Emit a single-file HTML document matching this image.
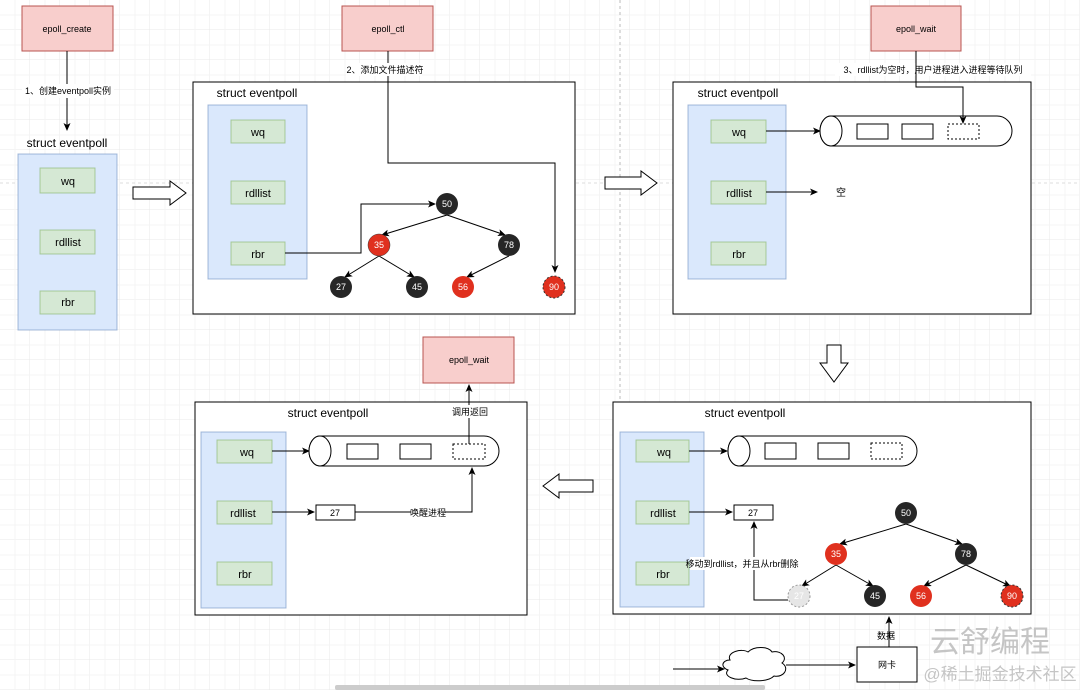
<!DOCTYPE html>
<html><head><meta charset="utf-8"><style>
html,body{margin:0;padding:0;background:#fff;}
svg{display:block;font-family:"Liberation Sans","Noto Sans CJK SC",sans-serif;}
</style></head><body>
<svg width="1080" height="690" viewBox="0 0 1080 690" xmlns="http://www.w3.org/2000/svg">
<defs>
<pattern id="g" width="30" height="30" patternUnits="userSpaceOnUse">
<path d="M30 0V30M0 30H30" fill="none" stroke="#e8e8e8" stroke-width="1"/>
<path d="M15 0V30M0 15H30" fill="none" stroke="#f4f4f4" stroke-width="1"/>
</pattern>
<marker id="a" markerWidth="8" markerHeight="8" refX="7" refY="4" orient="auto" markerUnits="userSpaceOnUse"><path d="M0,0.5 L8,4 L0,7.5 L2,4 Z" fill="#000"/></marker>
</defs>
<rect width="1080" height="690" fill="#fff"/>
<rect width="1080" height="690" fill="url(#g)"/>
<line x1="620" y1="0" x2="620" y2="400" stroke="#bbb" stroke-dasharray="3 3"/>
<line x1="0" y1="183" x2="1080" y2="183" stroke="#ddd" stroke-dasharray="3 3"/>

<g font-size="9" text-anchor="middle">
<!-- Panel 1 -->
<rect x="22" y="6" width="91" height="45" fill="#f8cecc" stroke="#b85450"/>
<text x="67" y="32">epoll_create</text>
<line x1="67" y1="51" x2="67" y2="130" stroke="#000" marker-end="url(#a)"/>
<rect x="22" y="84" width="92" height="14" fill="#fff"/>
<text x="68" y="94">1、创建eventpoll实例</text>
<text x="67" y="147" font-size="12">struct eventpoll</text>
<rect x="18" y="154" width="99" height="176" fill="#dae8fc" stroke="#6c8ebf" stroke-opacity="0.6"/>
<g fill="#d5e8d4" stroke="#82b366" stroke-opacity="0.6">
<rect x="40" y="168" width="55" height="25"/><rect x="40" y="230" width="55" height="24"/><rect x="40" y="291" width="55" height="23"/></g>
<g font-size="11"><text x="68" y="185">wq</text><text x="68" y="246">rdllist</text><text x="68" y="306">rbr</text></g>
<path d="M133,187 H170 V181 L186,193 L170,205 V199 H133 Z" fill="#fff" stroke="#000"/>

<!-- Panel 2 -->
<rect x="342" y="6" width="91" height="45" fill="#f8cecc" stroke="#b85450"/>
<text x="388" y="32">epoll_ctl</text>
<rect x="193" y="82" width="382" height="232" fill="#fff" stroke="#000"/>
<polyline points="388,51 388,163 555,163 555,272" fill="none" stroke="#000" marker-end="url(#a)"/>
<rect x="346" y="63" width="76" height="13" fill="#fff"/>
<text x="385" y="73">2、添加文件描述符</text>
<text x="257" y="97" font-size="12">struct eventpoll</text>
<rect x="208" y="105" width="99" height="174" fill="#dae8fc" stroke="#6c8ebf" stroke-opacity="0.6"/>
<g fill="#d5e8d4" stroke="#82b366" stroke-opacity="0.6">
<rect x="231" y="120" width="54" height="23"/><rect x="231" y="181" width="54" height="23"/><rect x="231" y="242" width="54" height="23"/></g>
<g font-size="11"><text x="258" y="136">wq</text><text x="258" y="197">rdllist</text><text x="258" y="258">rbr</text></g>
<polyline points="285,253 361,253 361,204 435,204" fill="none" stroke="#000" marker-end="url(#a)"/>
<g stroke="#000" marker-end="url(#a)">
<line x1="447" y1="215" x2="382" y2="235"/><line x1="447" y1="215" x2="505" y2="235"/>
<line x1="379" y1="256" x2="345" y2="277"/><line x1="379" y1="256" x2="414" y2="277"/>
<line x1="509" y1="256" x2="467" y2="277"/>
</g>
<g font-size="9" fill="#fff">
<circle cx="447" cy="204" r="11" fill="#262626"/><text x="447" y="207">50</text>
<circle cx="379" cy="245" r="11" fill="#e0301e" stroke="#333" stroke-width="0.5"/><text x="379" y="248">35</text>
<circle cx="509" cy="245" r="11" fill="#262626"/><text x="509" y="248">78</text>
<circle cx="341" cy="287" r="11" fill="#262626"/><text x="341" y="290">27</text>
<circle cx="417" cy="287" r="11" fill="#262626"/><text x="417" y="290">45</text>
<circle cx="463" cy="287" r="11" fill="#e0301e"/><text x="463" y="290">56</text>
<circle cx="554" cy="287" r="11" fill="#e0301e" stroke="#333" stroke-dasharray="2 2"/><text x="554" y="290">90</text>
</g>
<path d="M605,177 H641 V171 L657,183 L641,195 V189 H605 Z" fill="#fff" stroke="#000"/>

<!-- Panel 3 -->
<rect x="871" y="6" width="90" height="45" fill="#f8cecc" stroke="#b85450"/>
<text x="916" y="32">epoll_wait</text>
<rect x="673" y="82" width="358" height="232" fill="#fff" stroke="#000"/>
<rect x="835" y="63" width="196" height="13" fill="#fff"/>
<text x="933" y="73">3、rdllist为空时，用户进程进入进程等待队列</text>
<text x="738" y="97" font-size="12">struct eventpoll</text>
<rect x="688" y="105" width="98" height="174" fill="#dae8fc" stroke="#6c8ebf" stroke-opacity="0.6"/>
<g fill="#d5e8d4" stroke="#82b366" stroke-opacity="0.6">
<rect x="711" y="120" width="55" height="23"/><rect x="711" y="181" width="55" height="23"/><rect x="711" y="242" width="55" height="23"/></g>
<g font-size="11"><text x="739" y="136">wq</text><text x="739" y="197">rdllist</text><text x="739" y="258">rbr</text></g>
<line x1="766" y1="131" x2="820" y2="131" stroke="#000" marker-end="url(#a)"/>
<path d="M831,116 H997 A15,15 0 0 1 997,146 H831 A11,15 0 0 1 831,116 Z" fill="#fff" stroke="#000"/>
<ellipse cx="831" cy="131" rx="11" ry="15" fill="#fff" stroke="#000"/>
<rect x="857" y="124" width="31" height="15" fill="#fff" stroke="#000"/>
<rect x="902" y="124" width="31" height="15" fill="#fff" stroke="#000"/>
<rect x="948" y="124" width="31" height="15" fill="#fff" stroke="#000" stroke-dasharray="2 2"/>
<polyline points="916,51 916,87 963,87 963,123" fill="none" stroke="#000" marker-end="url(#a)"/>
<line x1="766" y1="192" x2="817" y2="192" stroke="#000" marker-end="url(#a)"/>
<text x="841" y="196" font-size="10">空</text>
<path d="M827,345 V363 H820 L834,382 L848,363 H841 V345 Z" fill="#fff" stroke="#000"/>

<!-- Panel 4 -->
<rect x="613" y="402" width="418" height="212" fill="#fff" stroke="#000"/>
<text x="745" y="417" font-size="12">struct eventpoll</text>
<rect x="620" y="432" width="84" height="175" fill="#dae8fc" stroke="#6c8ebf" stroke-opacity="0.6"/>
<g fill="#d5e8d4" stroke="#82b366" stroke-opacity="0.6">
<rect x="636" y="440" width="53" height="22"/><rect x="636" y="501" width="53" height="23"/><rect x="636" y="562" width="53" height="23"/></g>
<g font-size="11"><text x="664" y="456">wq</text><text x="663" y="517">rdllist</text><text x="663" y="578">rbr</text></g>
<line x1="689" y1="451" x2="727" y2="451" stroke="#000" marker-end="url(#a)"/>
<path d="M739,436 H902 A15,15 0 0 1 902,466 H739 A11,15 0 0 1 739,436 Z" fill="#fff" stroke="#000"/>
<ellipse cx="739" cy="451" rx="11" ry="15" fill="#fff" stroke="#000"/>
<rect x="765" y="443" width="31" height="16" fill="#fff" stroke="#000"/>
<rect x="818" y="443" width="31" height="16" fill="#fff" stroke="#000"/>
<rect x="871" y="443" width="31" height="16" fill="#fff" stroke="#000" stroke-dasharray="2 2"/>
<line x1="689" y1="512" x2="732" y2="512" stroke="#000" marker-end="url(#a)"/>
<rect x="734" y="505" width="39" height="15" fill="#fff" stroke="#000"/>
<text x="753" y="516">27</text>
<polyline points="788,600 754,600 754,522" fill="none" stroke="#000" marker-end="url(#a)"/>
<rect x="690" y="557" width="104" height="13" fill="#fff"/>
<text x="742" y="567">移动到rdllist，并且从rbr删除</text>
<g stroke="#000" marker-end="url(#a)">
<line x1="906" y1="524" x2="840" y2="544"/><line x1="906" y1="524" x2="962" y2="544"/>
<line x1="836" y1="565" x2="802" y2="586"/><line x1="836" y1="565" x2="873" y2="586"/>
<line x1="966" y1="565" x2="924" y2="586"/><line x1="966" y1="565" x2="1010" y2="586"/>
</g>
<g font-size="9" fill="#fff">
<circle cx="906" cy="513" r="11" fill="#262626"/><text x="906" y="516">50</text>
<circle cx="836" cy="554" r="11" fill="#e0301e"/><text x="836" y="557">35</text>
<circle cx="966" cy="554" r="11" fill="#262626"/><text x="966" y="557">78</text>
<circle cx="799" cy="596" r="11" fill="#e6e6e6" stroke="#999" stroke-dasharray="2 2"/><text x="799" y="599">27</text>
<circle cx="875" cy="596" r="11" fill="#262626"/><text x="875" y="599">45</text>
<circle cx="921" cy="596" r="11" fill="#e0301e"/><text x="921" y="599">56</text>
<circle cx="1012" cy="596" r="11" fill="#e0301e" stroke="#333" stroke-dasharray="2 2"/><text x="1012" y="599">90</text>
</g>
<line x1="889" y1="647" x2="889" y2="617" stroke="#000" marker-end="url(#a)"/>
<text x="886" y="639">数据</text>
<rect x="857" y="647" width="60" height="35" fill="#fff" stroke="#000"/>
<text x="887" y="668">网卡</text>
<line x1="673" y1="669" x2="724" y2="669" stroke="#000" marker-end="url(#a)"/>
<path d="M730,660 C726,652 742,648 748,652 C754,646 768,646 772,652 C782,650 788,658 782,663 C790,668 784,678 774,676 C768,682 752,682 746,678 C736,682 722,676 728,670 C720,667 722,660 730,660 Z" fill="#fff" stroke="#000"/>
<line x1="786" y1="665" x2="855" y2="665" stroke="#000" marker-end="url(#a)"/>
<g fill="#bbb" fill-opacity="0.85">
<text x="990" y="652" font-size="30">云舒编程</text>
<text x="1000" y="680" font-size="17">@稀土掘金技术社区</text>
</g>
<path d="M543,486 L559,474 V480 H593 V492 H559 V498 Z" fill="#fff" stroke="#000"/>

<!-- Panel 5 -->
<rect x="195" y="402" width="332" height="213" fill="#fff" stroke="#000"/>
<rect x="423" y="337" width="91" height="46" fill="#f8cecc" stroke="#b85450"/>
<text x="469" y="363">epoll_wait</text>
<text x="328" y="417" font-size="12">struct eventpoll</text>
<rect x="201" y="432" width="85" height="176" fill="#dae8fc" stroke="#6c8ebf" stroke-opacity="0.6"/>
<g fill="#d5e8d4" stroke="#82b366" stroke-opacity="0.6">
<rect x="217" y="440" width="55" height="23"/><rect x="217" y="501" width="55" height="23"/><rect x="217" y="562" width="55" height="23"/></g>
<g font-size="11"><text x="247" y="456">wq</text><text x="243" y="517">rdllist</text><text x="245" y="578">rbr</text></g>
<line x1="272" y1="451" x2="309" y2="451" stroke="#000" marker-end="url(#a)"/>
<path d="M320,436 H484 A15,15 0 0 1 484,466 H320 A11,15 0 0 1 320,436 Z" fill="#fff" stroke="#000"/>
<ellipse cx="320" cy="451" rx="11" ry="15" fill="#fff" stroke="#000"/>
<rect x="347" y="444" width="31" height="15" fill="#fff" stroke="#000"/>
<rect x="400" y="444" width="31" height="15" fill="#fff" stroke="#000"/>
<rect x="453" y="444" width="32" height="15" fill="#fff" stroke="#000" stroke-dasharray="2 2"/>
<line x1="469" y1="444" x2="469" y2="385" stroke="#000" marker-end="url(#a)"/>
<rect x="450" y="405" width="40" height="13" fill="#fff"/>
<text x="470" y="415">调用返回</text>
<line x1="272" y1="512" x2="314" y2="512" stroke="#000" marker-end="url(#a)"/>
<rect x="316" y="505" width="39" height="15" fill="#fff" stroke="#000"/>
<text x="335" y="516">27</text>
<polyline points="355,512 472,512 472,468" fill="none" stroke="#000" marker-end="url(#a)"/>
<rect x="411" y="506" width="34" height="12" fill="#fff"/>
<text x="428" y="516">唤醒进程</text>
</g>
<rect x="335" y="685" width="430" height="5" rx="2" fill="#ccc"/>
</svg>
</body></html>
